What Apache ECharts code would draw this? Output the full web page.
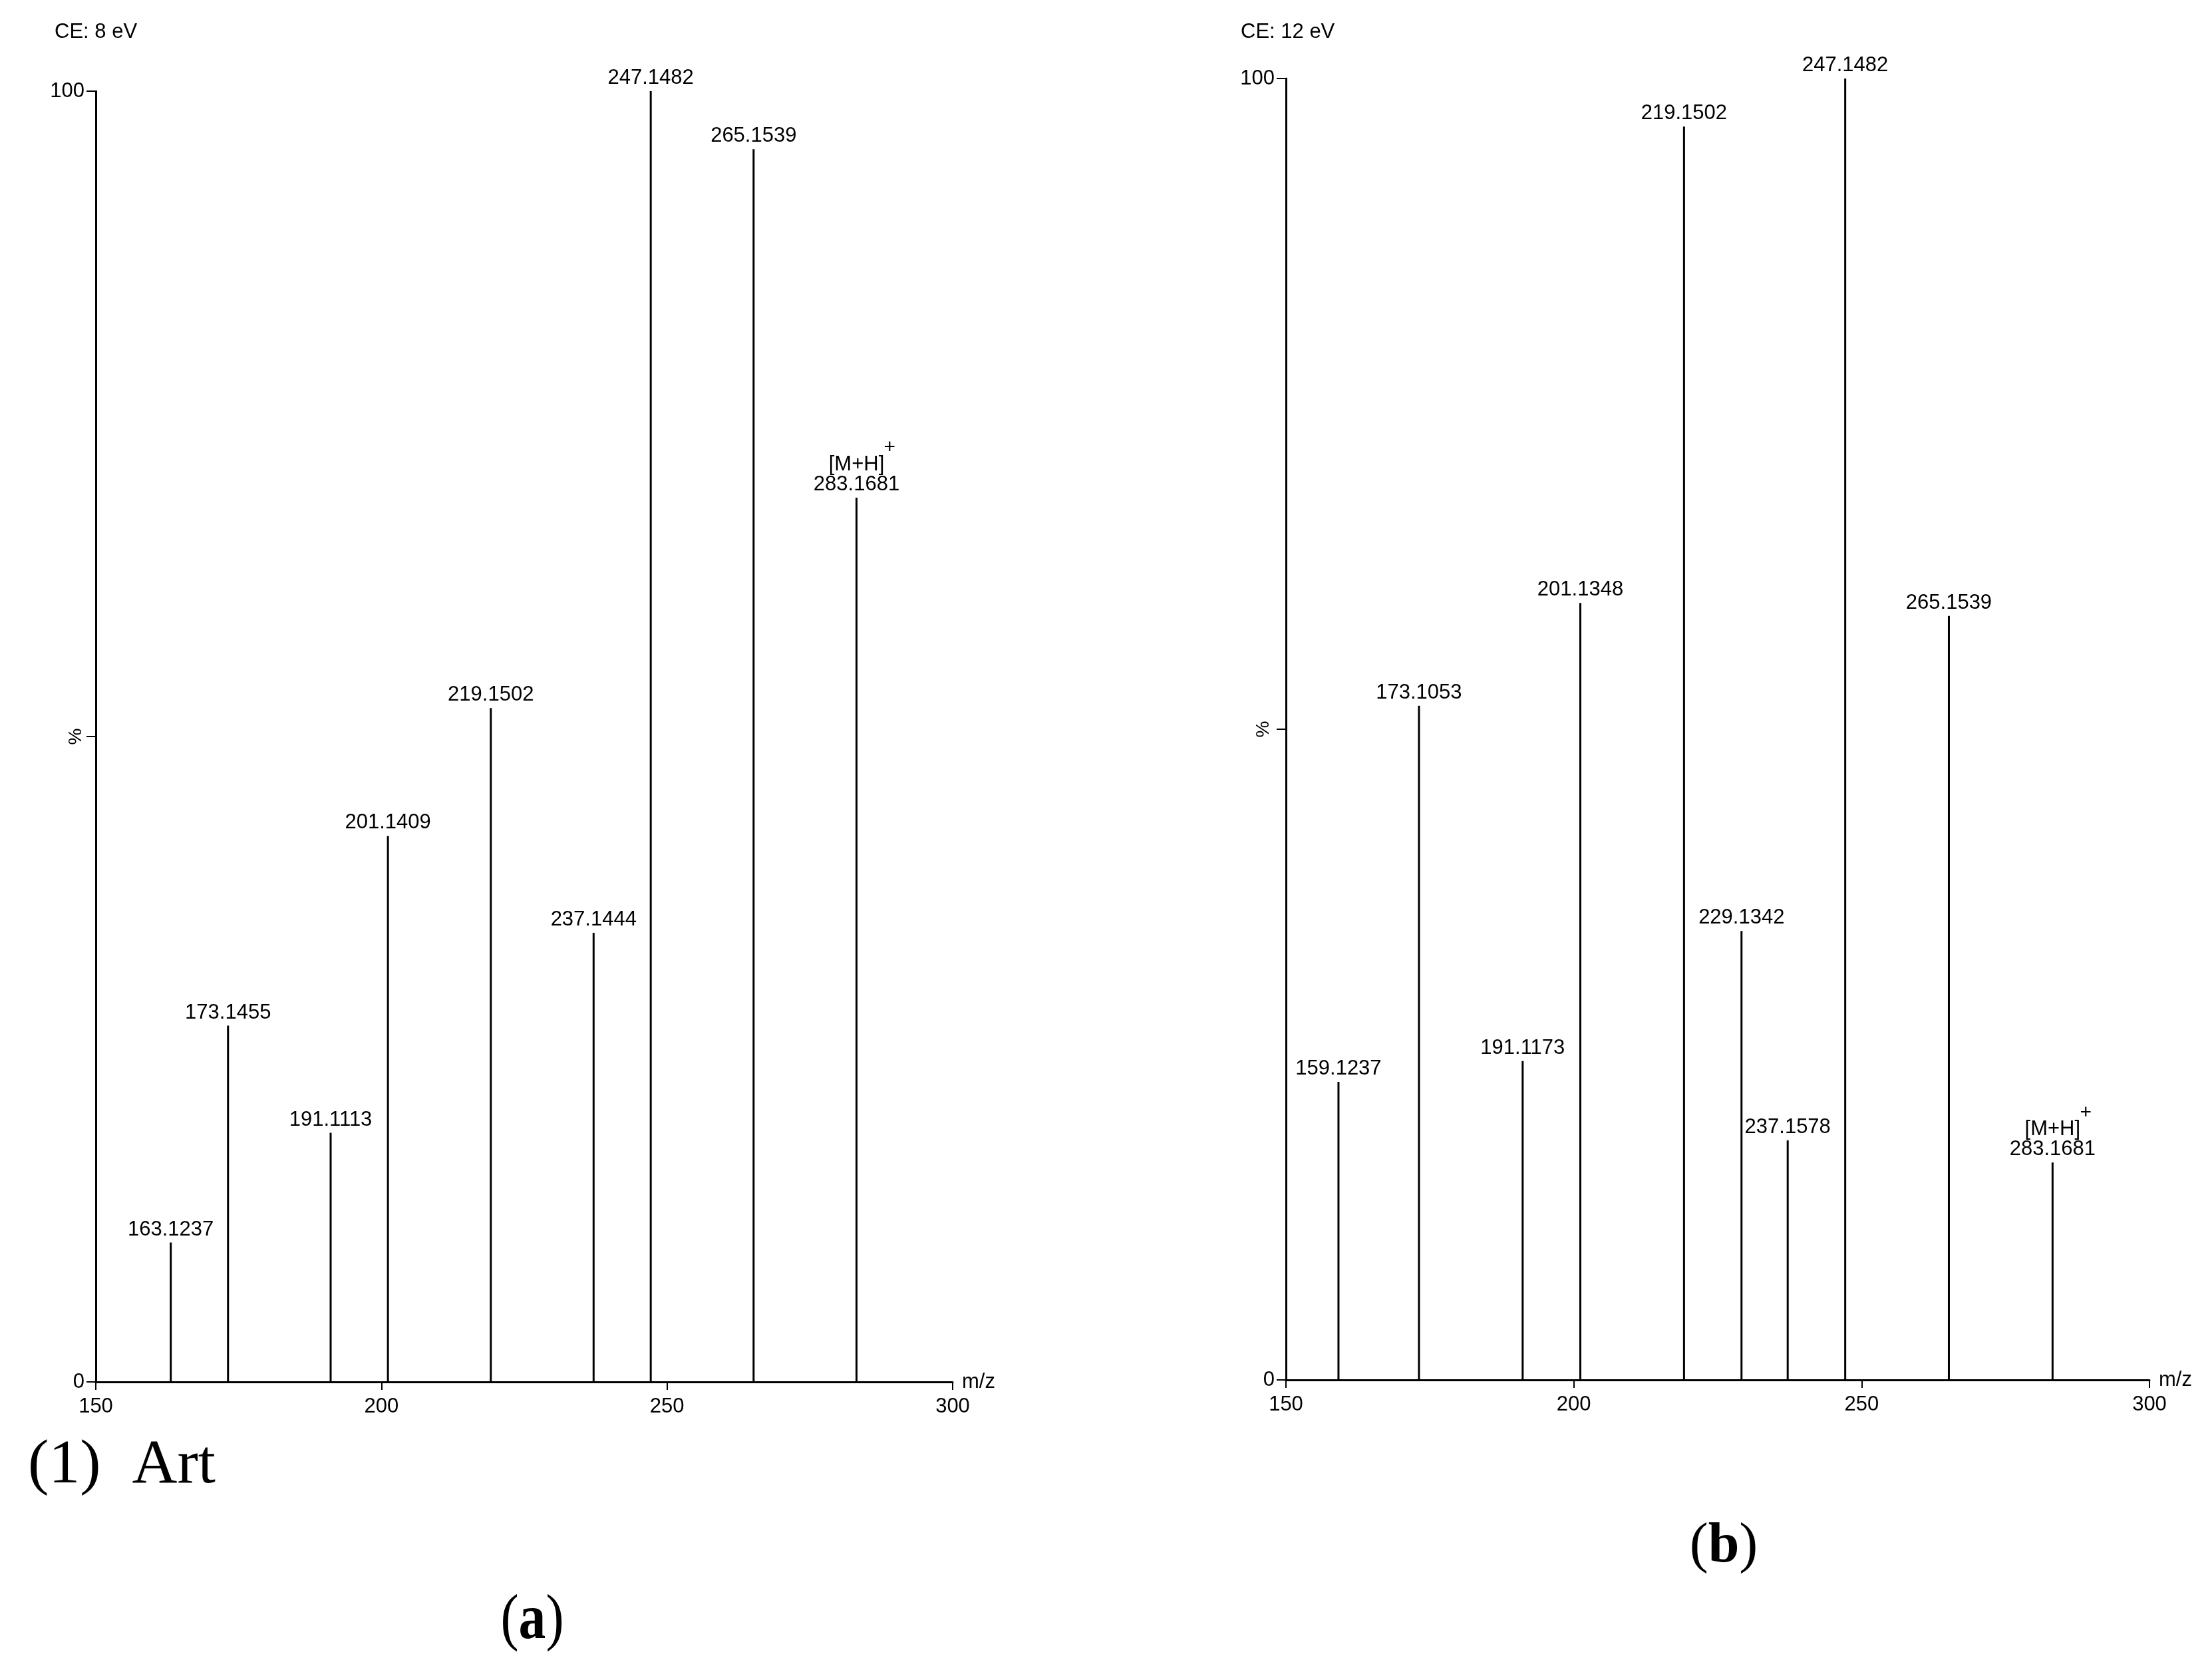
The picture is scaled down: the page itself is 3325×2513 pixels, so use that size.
<!DOCTYPE html>
<html>
<head>
<meta charset="utf-8">
<script src="https://cdn.jsdelivr.net/npm/echarts@6/dist/echarts.min.js"></script>
<style>
html,body{margin:0;padding:0;background:#fff;}
#chart{width:3325px;height:2513px;}
</style>
</head>
<body>
<div id="chart"></div>
<script>
// Panel (a): CE 8 eV
const mzA = [163.1237, 173.1455, 191.1113, 201.1409, 219.1502, 237.1444, 247.1482, 265.1539, 283.1681];
const intA = [10.8, 27.6, 19.3, 42.3, 52.2, 34.8, 100, 95.5, 68.5];
const ionA = ['', '', '', '', '', '', '', '', '[M+H]'];
// Panel (b): CE 12 eV
const mzB = [159.1237, 173.1053, 191.1173, 201.1348, 219.1502, 229.1342, 237.1578, 247.1482, 265.1539, 283.1681];
const intB = [22.9, 51.8, 24.5, 59.7, 96.3, 34.5, 18.4, 100, 58.7, 16.7];
const ionB = ['', '', '', '', '', '', '', '', '', '[M+H]'];
// Axis ticks
const xTicks = [150, 200, 250, 300];
const yTicks = [0, 50, 100];
const titles = ['CE: 8 eV', 'CE: 12 eV'];

const SANS = '"Liberation Sans", Arial, sans-serif';
const SERIF = '"Liberation Serif", "Times New Roman", serif';

const chart = echarts.init(document.getElementById('chart'), null, {renderer: 'canvas'});

function mkX(gi) {
  return {
    type: 'value', gridIndex: gi, min: xTicks[0], max: xTicks[xTicks.length - 1], interval: 50,
    name: 'm/z', nameLocation: 'end', nameGap: 14,
    nameTextStyle: {fontFamily: SANS, fontSize: 31, color: '#000', verticalAlign: 'middle'},
    axisLine: {show: true, onZero: false, lineStyle: {color: '#000', width: 3}},
    axisTick: {show: true, length: 12, lineStyle: {color: '#000', width: 2}},
    axisLabel: {show: true, margin: 22, fontFamily: SANS, fontSize: 31, color: '#000'},
    splitLine: {show: false}
  };
}
function mkY(gi) {
  return {
    type: 'value', gridIndex: gi, min: yTicks[0], max: yTicks[yTicks.length - 1], interval: 50,
    axisLine: {show: true, lineStyle: {color: '#000', width: 3}},
    axisTick: {show: true, length: 14, lineStyle: {color: '#000', width: 2}},
    axisLabel: {show: true, margin: 17, fontFamily: SANS, fontSize: 31, color: '#000',
      formatter: v => (v === 50 ? '' : String(v))},
    splitLine: {show: false}
  };
}
// overlay axis carrying only the rotated "%" name
function mkYName(gi, gap) {
  return {
    type: 'value', gridIndex: gi, min: yTicks[0], max: yTicks[yTicks.length - 1], interval: 50,
    position: 'left',
    name: '%', nameLocation: 'middle', nameRotate: 90, nameGap: gap,
    nameTextStyle: {fontFamily: SANS, fontSize: 28, color: '#000'},
    axisLine: {show: false}, axisTick: {show: false}, axisLabel: {show: false},
    splitLine: {show: false}
  };
}
function mkSeries(gi, mz, inten, ion) {
  return {
    type: 'bar', xAxisIndex: gi, yAxisIndex: gi, barWidth: 3,
    itemStyle: {color: '#000'},
    data: mz.map((m, i) => [m, inten[i]]),
    label: {
      show: true, position: 'top', distance: 4, color: '#000',
      fontFamily: SANS, fontSize: 31, lineHeight: 31,
      formatter: p => {
        const t = mz[p.dataIndex].toFixed(4);
        const io = ion[p.dataIndex];
        return io ? '{sup|+}\n{ion|' + io + '}\n{num|' + t + '}' : t;
      },
      rich: {
        sup: {fontFamily: SANS, fontSize: 30, lineHeight: 20, color: '#000', align: 'right', padding: [0, 6, 0, 0]},
        ion: {fontFamily: SANS, fontSize: 31, lineHeight: 30, color: '#000'},
        num: {fontFamily: SANS, fontSize: 31, lineHeight: 31, color: '#000'}
      }
    },
    animation: false
  };
}

chart.setOption({
  backgroundColor: '#fff',
  animation: false,
  title: [
    {text: titles[0], left: 77, top: 28, textStyle: {fontFamily: SANS, fontSize: 31, fontWeight: 'normal', color: '#000'}},
    {text: titles[1], left: 1860, top: 28, textStyle: {fontFamily: SANS, fontSize: 31, fontWeight: 'normal', color: '#000'}}
  ],
  grid: [
    {left: 144, right: 1893, top: 137, bottom: 436},
    {left: 1933, right: 94, top: 118, bottom: 439}
  ],
  xAxis: [mkX(0), mkX(1)],
  yAxis: [mkY(0), mkY(1), mkYName(0, 16), mkYName(1, 20)],
  series: [mkSeries(0, mzA, intA, ionA), mkSeries(1, mzB, intB, ionB)],
  graphic: [
    {type: 'text', left: 42, top: 2156, style: {text: '(1)  Art', font: '94px ' + SERIF, fill: '#000'}},
    {type: 'text', x: 800, y: 2437, scaleX: 0.85, style: {
      text: '({b|a})', align: 'center', verticalAlign: 'middle', font: '96px ' + SERIF, fill: '#000',
      rich: {b: {font: 'bold 96px ' + SERIF, fill: '#000'}}}},
    {type: 'text', x: 2591, y: 2325, style: {
      text: '({b|b})', align: 'center', verticalAlign: 'middle', font: '84px ' + SERIF, fill: '#000',
      rich: {b: {font: 'bold 84px ' + SERIF, fill: '#000'}}}}
  ]
});
</script>
</body>
</html>
